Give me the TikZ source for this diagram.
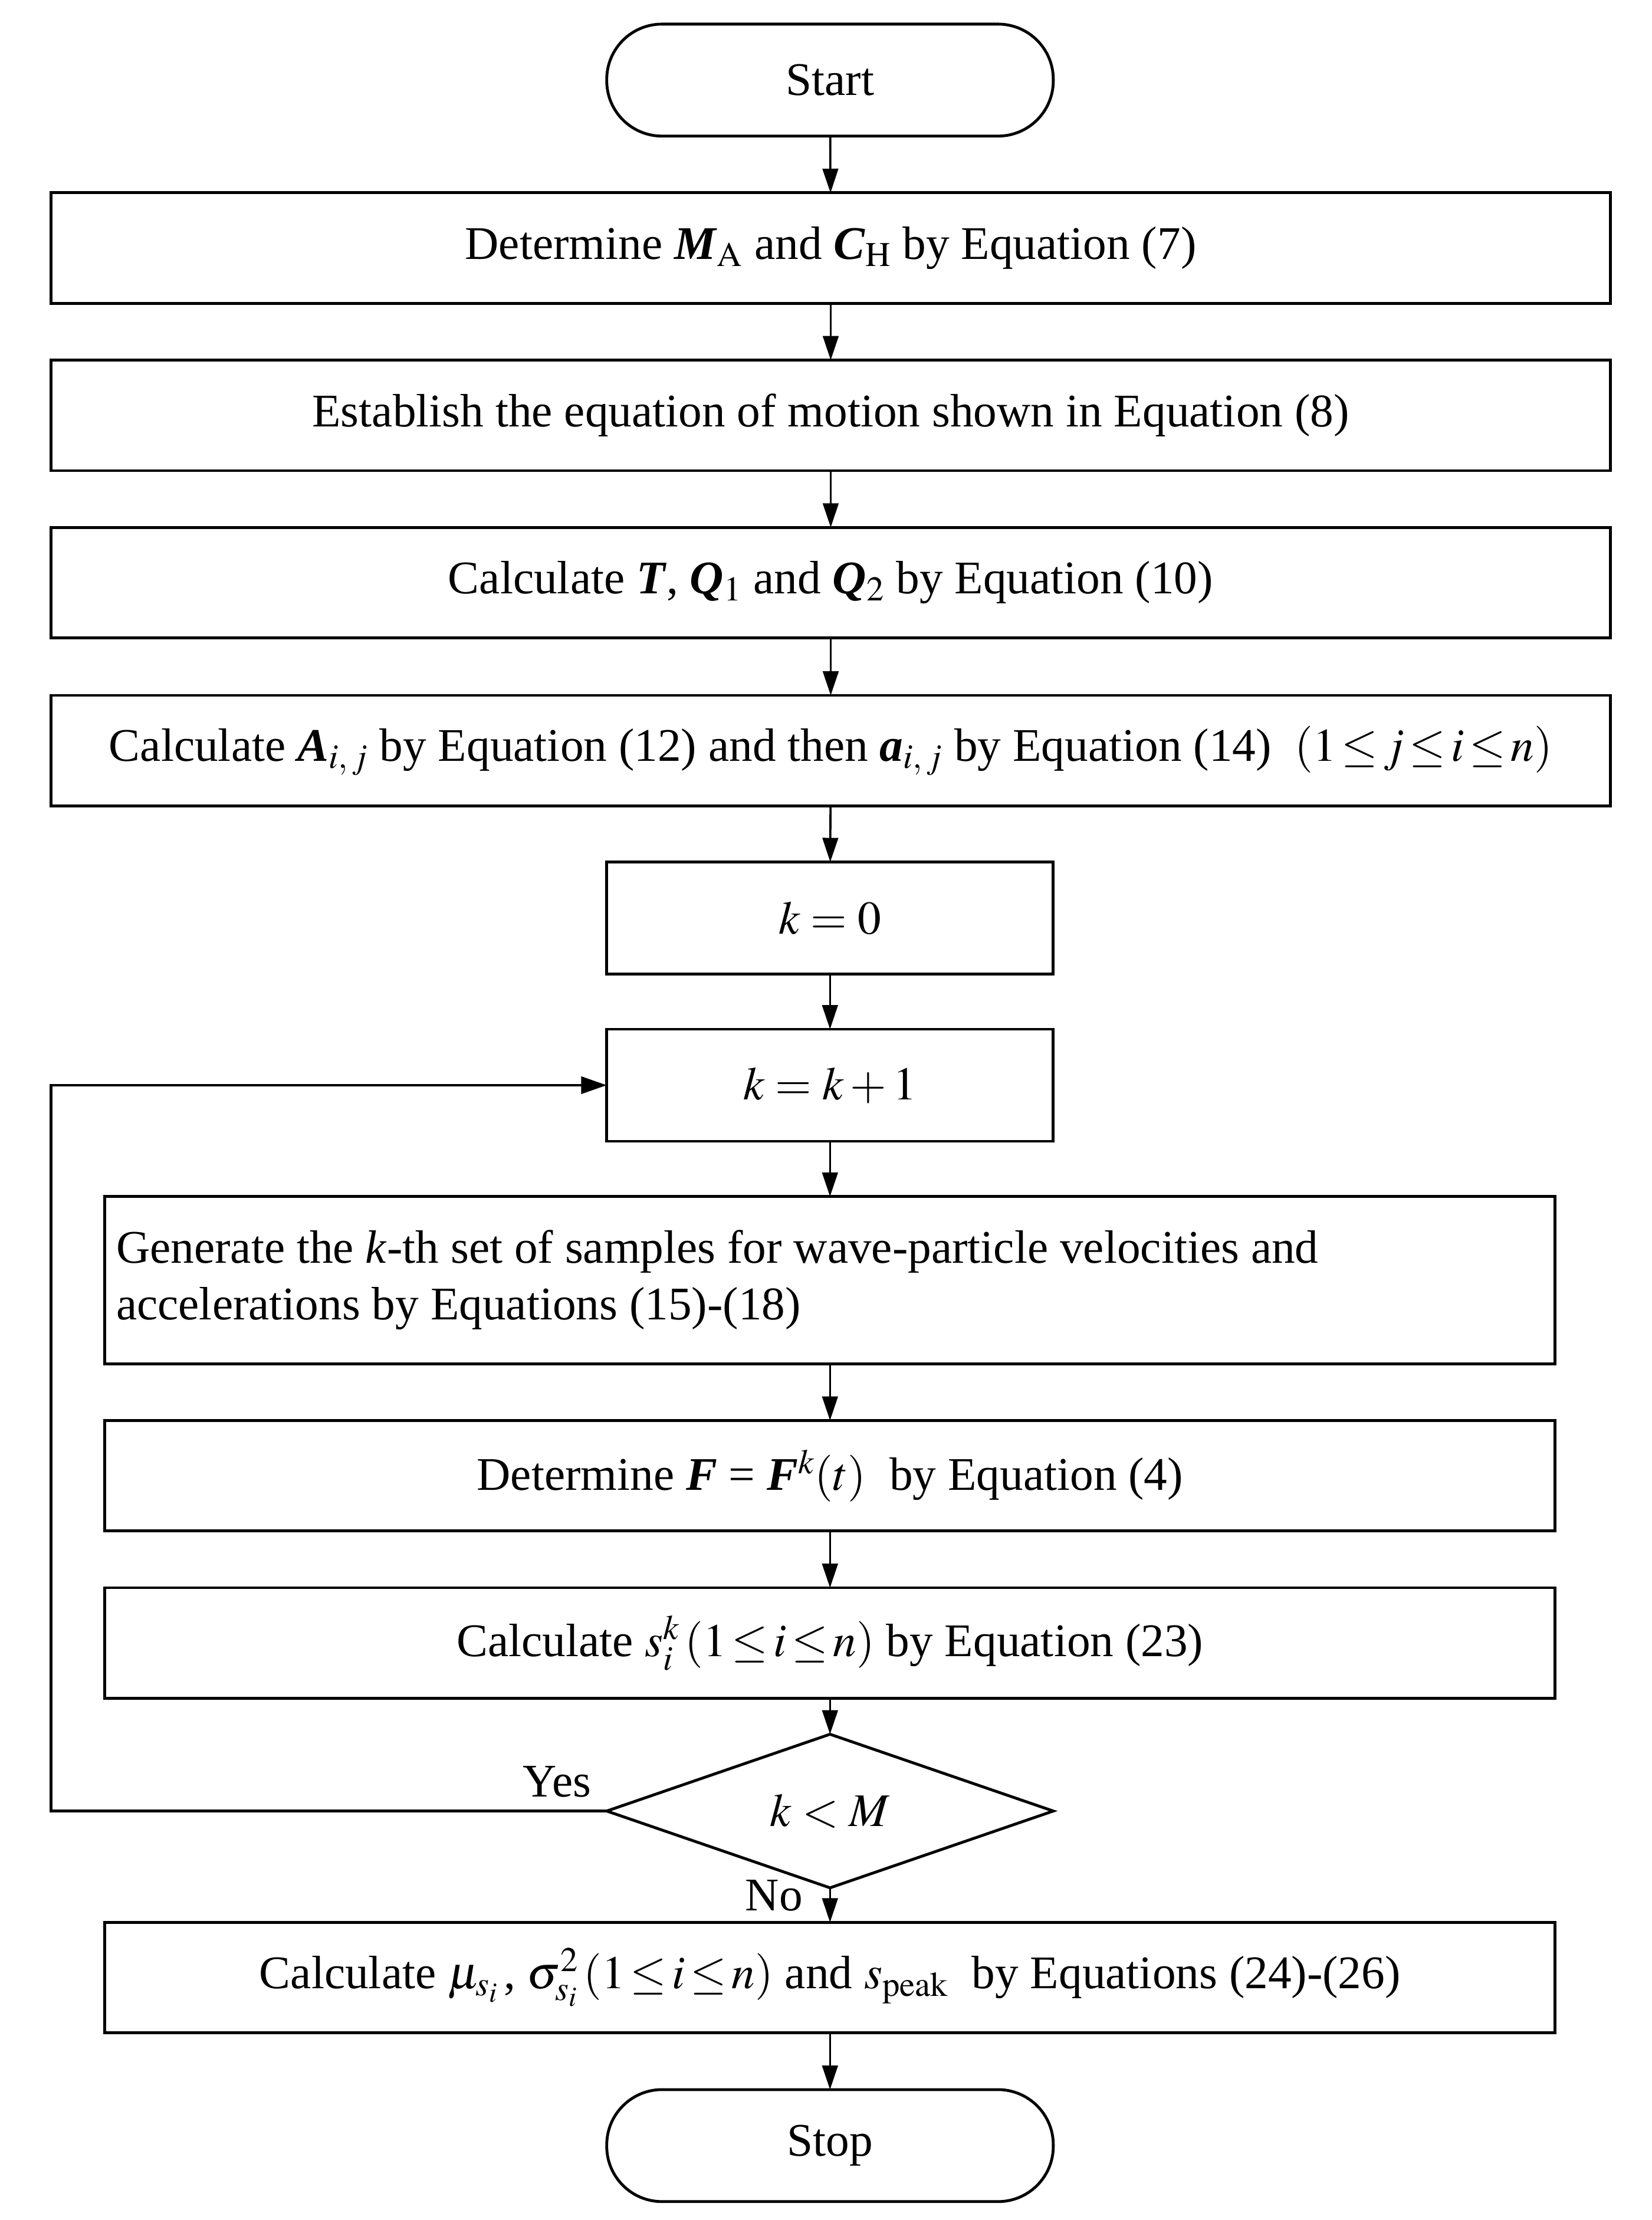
\documentclass[tikz,border=0pt]{standalone}
\usepackage{mathptmx}
\usepackage{fontspec}
\setmainfont{Liberation Serif}
\usetikzlibrary{arrows.meta,shapes.geometric}
\newcommand{\bfit}[1]{\textbf{\textit{#1}}}
\newcommand{\mle}{\mskip2mu{\le}\mskip2mu}
\begin{document}
\begin{tikzpicture}[x=1pt,y=-1pt,
  every node/.style={font=\fontsize{33}{40}\selectfont},
  procbox/.style={draw,line width=2pt,rectangle,inner sep=0pt,outer sep=0pt,minimum height=78pt,align=center},
  widebox/.style={procbox,minimum width=1100pt},
  midbox/.style={procbox,minimum width=1023pt},
  smallbox/.style={procbox,minimum width=315pt,minimum height=79pt},
  term/.style={draw,line width=2pt,rectangle,rounded corners=39pt,minimum width=315pt,minimum height=79pt,inner sep=0pt,outer sep=0pt},
  decide/.style={draw,line width=2pt,diamond,minimum width=315pt,minimum height=79pt,inner sep=0pt,outer sep=0pt},
  arr/.style={line width=1.5pt,-{Triangle[length=17pt,width=11pt]}},
  looparr/.style={line width=2pt,-{Triangle[length=18pt,width=12pt]}},
  lbl/.style={inner sep=0pt}
]
\useasboundingbox (0,0) rectangle (1165,1566);
\node[term] (start) at (585.5,56.5) {Start};
\node[widebox] (b1) at (586,175) {Determine \bfit{M}$_{\mathrm{A}}$ and \bfit{C}$_{\mathrm{H}}$ by Equation (7)};
\node[widebox] (b2) at (586,293) {Establish the equation of motion shown in Equation (8)};
\node[widebox] (b3) at (586,411) {Calculate \bfit{T}, \bfit{Q}$_1$ and \bfit{Q}$_2$ by Equation (10)};
\node[widebox] (b4) at (586,529.5) {Calculate \bfit{A}$_{i,\,j}$ by Equation (12) and then \bfit{a}$_{i,\,j}$ by Equation (14)\ \ $(1\mle j\mle i\mle n)$};
\node[smallbox] (k0) at (585.5,647.5) {$k=0$};
\node[smallbox] (k1) at (585.5,765.5) {$k=k+1$};
\node[midbox,minimum height=118pt,text width=1007pt,align=flush left] (gen) at (585.5,903) {Generate the \textit{k}-th set of samples for wave-particle velocities and\\accelerations by Equations (15)-(18)};
\node[midbox] (detF) at (585.5,1041) {Determine \bfit{F} = \bfit{F}$^{k}(t)$\ \ by Equation (4)};
\node[midbox] (cs) at (585.5,1159) {Calculate $s_i^k\left(1\mle i\mle n\right)$\ by Equation (23)};
\node[decide] (dia) at (585.5,1277.5) {$k<M$};
\node[midbox] (fin) at (585.5,1395) {Calculate $\mu_{s_i}\,$, $\sigma_{s_i}^2\left(1\mle i\mle n\right)$ and $s_{\mathrm{peak}}$\ \ by Equations (24)-(26)};
\node[term] (stop) at (585.5,1513.5) {Stop};
\coordinate (lp) at (36,1277.5);
\node[lbl] (yes) at (393,1257) {Yes};
\node[lbl] (no) at (546,1337) {No};
\draw[arr] (start) -- (b1);
\draw[arr] (b1) -- (b2);
\draw[arr] (b2) -- (b3);
\draw[arr] (b3) -- (b4);
\draw[arr] (b4) -- (k0);
\draw[arr] (k0) -- (k1);
\draw[arr] (k1) -- (gen);
\draw[arr] (gen) -- (detF);
\draw[arr] (detF) -- (cs);
\draw[arr] (cs) -- (dia);
\draw[arr] (dia) -- (fin);
\draw[arr] (fin) -- (stop);
\draw[looparr] (dia.west) -- (lp) |- (k1.west);
\end{tikzpicture}
\end{document}
